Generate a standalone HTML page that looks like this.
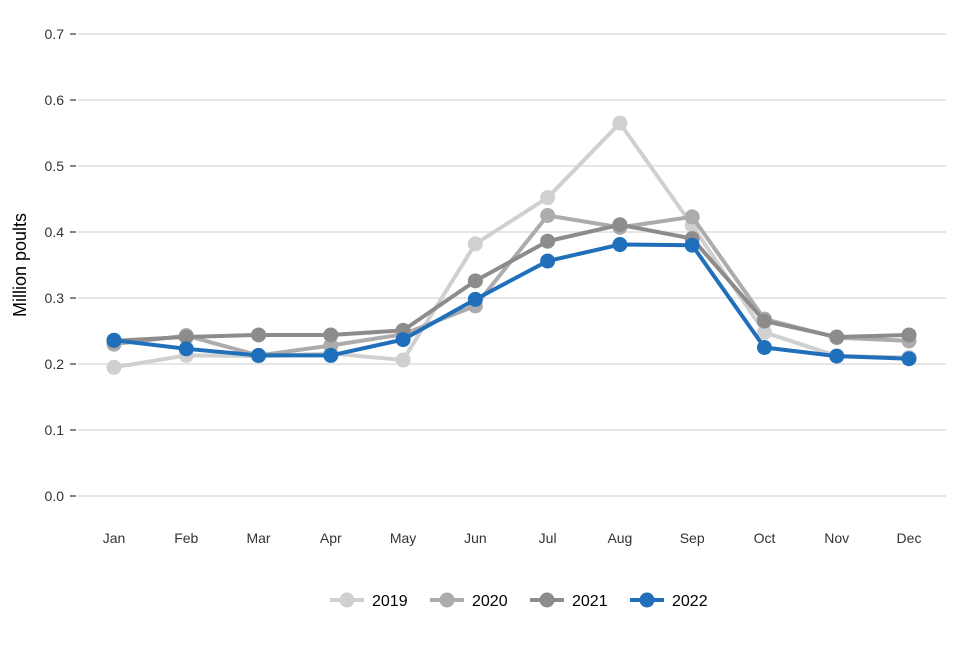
<!DOCTYPE html>
<html><head><meta charset="utf-8"><style>
body{margin:0;background:#fff;font-family:"Liberation Sans",Arial,sans-serif}
svg text{font-family:"Liberation Sans",Arial,sans-serif}
</style></head><body>
<svg id="chart" width="960" height="640" xmlns="http://www.w3.org/2000/svg">
<g id="grid"></g>
<g id="yaxis"></g>
<g id="xaxis"></g>
<text x="26" y="265" transform="rotate(-90 26 265)" text-anchor="middle" font-size="18" fill="#000">Million poults</text>
<g id="series"></g>
<g id="legend"></g>
</svg>
<script>
const months=["Jan","Feb","Mar","Apr","May","Jun","Jul","Aug","Sep","Oct","Nov","Dec"];
const yTicks=[0,0.1,0.2,0.3,0.4,0.5,0.6,0.7];
const yTickLabels=["0.0","0.1","0.2","0.3","0.4","0.5","0.6","0.7"];
const seriesNames=["2019","2020","2021","2022"];
const v2019=[0.195,0.213,0.212,0.216,0.206,0.382,0.452,0.565,0.41,0.248,0.212,0.21];
const v2020=[0.230,0.243,0.213,0.228,0.245,0.288,0.425,0.407,0.423,0.268,0.240,0.235];
const v2021=[0.235,0.241,0.244,0.244,0.251,0.326,0.386,0.411,0.390,0.265,0.241,0.244];
const v2022=[0.236,0.223,0.213,0.213,0.237,0.298,0.356,0.381,0.380,0.225,0.212,0.208];
const colors=["#d1d0d0","#adabab","#8e8b8b","#1f6fba"];
const NS="http://www.w3.org/2000/svg";
const x=i=>114+i*(909-114)/11;
const y=v=>496-v*660;
function mk(t,a,p){const e=document.createElementNS(NS,t);for(const k in a)e.setAttribute(k,a[k]);p.appendChild(e);return e;}
const grid=document.getElementById('grid'),ya=document.getElementById('yaxis'),xa=document.getElementById('xaxis');
yTicks.forEach((t,i)=>{
 const l=mk('line',{x1:78,x2:946,y1:y(t),y2:y(t),stroke:'#e6e6e6','stroke-width':2},grid);
 
 
 const tk=mk('line',{x1:70,x2:76,y1:y(t),y2:y(t),stroke:'#333','stroke-width':1.2},ya);
 
 
 const tx=mk('text',{x:64,y:y(t)+5,'text-anchor':'end','font-size':14,fill:'#333'},ya);
 tx.textContent=yTickLabels[i];
 
 
});
months.forEach((m,i)=>{
 const tx=mk('text',{x:x(i),y:543,'text-anchor':'middle','font-size':14,fill:'#333'},xa);
 tx.textContent=m;
 
 
});
const sg=document.getElementById('series');
[v2019,v2020,v2021,v2022].forEach((vals,s)=>{
 const g=mk('g',{},sg);
 
 
 const pl=mk('polyline',{points:vals.map((v,i)=>x(i)+','+y(v)).join(' '),fill:'none',stroke:colors[s],'stroke-width':4,'stroke-linejoin':'round'},g);
 
 
 vals.forEach((v,i)=>{
  const c=mk('circle',{cx:x(i),cy:y(v),r:7.5,fill:colors[s]},g);
  
  
 });
});
const lg=document.getElementById('legend');
seriesNames.forEach((n,s)=>{
 const bx=330+s*100;
 const g=mk('g',{},lg);
 
 
 mk('line',{x1:bx,x2:bx+34,y1:600,y2:600,stroke:colors[s],'stroke-width':4},g);
 mk('circle',{cx:bx+17,cy:600,r:7.5,fill:colors[s]},g);
 const t=mk('text',{x:bx+42,y:606,'font-size':16,fill:'#000'},g);
 t.textContent=n;
});
</script>
</body></html>
